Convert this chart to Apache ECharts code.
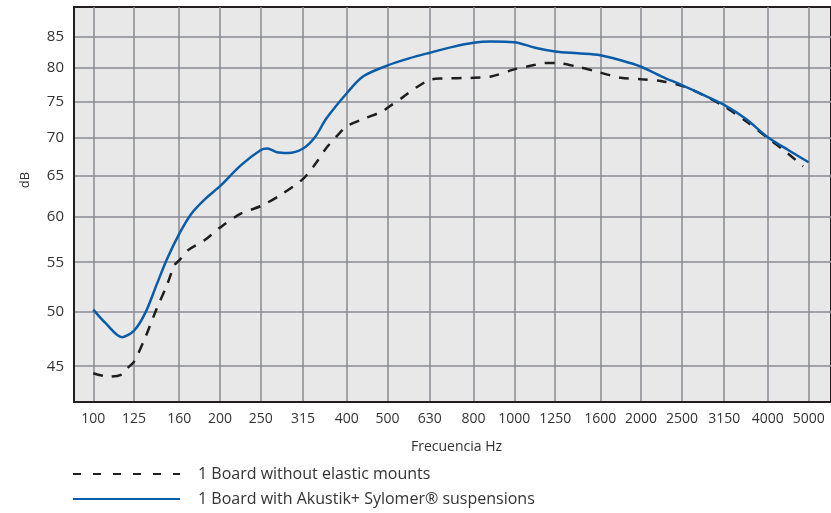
<!DOCTYPE html>
<html>
<head>
<meta charset="utf-8">
<script src="https://cdn.jsdelivr.net/npm/echarts@6/dist/echarts.min.js"></script>
<style>
html,body{margin:0;padding:0;background:#fff;}
#c{width:831px;height:513px;}
</style>
</head>
<body>
<div id="c"></div>
<script>
const freqTicks = [100,125,160,200,250,315,400,500,630,800,1000,1250,1600,2000,2500,3150,4000,5000];
const dbTicks = [45,50,55,60,65,70,75,80,85];

const nameWithout = '1 Board without elastic mounts';
const nameWith = '1 Board with Akustik+ Sylomer® suspensions';

const freqWith = [100,107,117,125,133,141.5,149.5,160,171,184,200,224,250,259,273,290,315,336,358,400,437,500,562,630,710,800,880,1000,1120,1250,1414,1600,1790,2000,2240,2500,2800,3150,3550,4000,4470,5000];
const dbWith   = [50.2,48.9,47.6,48.2,49.9,52.7,55.3,58.1,60.4,62.1,63.7,66.3,68.3,68.5,68.0,67.9,68.5,70.0,72.6,76.2,78.7,80.4,81.5,82.4,83.3,84.0,84.2,84.1,83.2,82.6,82.3,82.0,81.2,80.2,78.7,77.4,76.0,74.5,72.5,70.0,68.3,66.7];

const freqWithout = [100,109,117,121,125,133,141.5,149.5,156,160,168,184,200,224,250,278,315,340,358,385,400,437,487,500,543,583,630,670,800,880,1000,1120,1180,1250,1414,1600,1790,2000,2240,2500,2800,3150,3550,4000,4470,4850];
const dbWithout   = [44.4,44.1,44.3,44.9,45.4,47.6,50.3,52.6,54.7,55.2,56.3,57.4,58.8,60.4,61.3,62.6,64.6,66.8,68.6,70.6,71.5,72.5,73.6,74.1,75.6,77.0,78.2,78.4,78.5,78.7,79.8,80.5,80.8,80.8,80.2,79.3,78.5,78.3,78.0,77.3,76.0,74.3,72.2,69.9,67.8,66.2];

const pairs = (xs, ys) => xs.map((x, i) => [x, ys[i]]);
const FONT = 'Open Sans';

const chart = echarts.init(document.getElementById('c'), null, {renderer: 'canvas'});
chart.setOption({
  animation: false,
  backgroundColor: '#ffffff',
  grid: {
    left: 74, top: 7, right: -8, bottom: 111,
    show: true, backgroundColor: '#e8e8e8',
    borderColor: '#231f20', borderWidth: 2,
    containLabel: false
  },
  legend: {
    orient: 'vertical',
    left: 72, top: 466, padding: 0,
    itemWidth: 107, itemHeight: 14, itemGap: 9,
    itemStyle: {opacity: 0},
    textStyle: {fontFamily: FONT, fontSize: 16, color: '#333', padding: [0,0,0,13], lineHeight: 14},
    data: [
      {name: nameWithout, lineStyle: {type: [8, 12]}},
      {name: nameWith}
    ]
  },
  graphic: [{
    type: 'text', x: 25, y: 180, rotation: Math.PI / 2,
    style: {text: 'dB', fontFamily: FONT, fontSize: 13, fill: '#333', align: 'center', verticalAlign: 'middle'}
  }],
  xAxis: {
    type: 'log', logBase: 10, min: 90, max: 5650,
    name: 'Frecuencia Hz', nameLocation: 'middle', nameGap: 38,
    nameTextStyle: {fontFamily: FONT, fontSize: 14, color: '#333', padding: [0,0,0,8]},
    axisLine: {show: true, onZero: false, lineStyle: {color: '#231f20', width: 2}},
    axisTick: {show: false, customValues: freqTicks},
    axisLabel: {customValues: freqTicks, formatter: v => String(Math.round(v)), fontFamily: FONT, fontSize: 14, color: '#333', margin: 10},
    splitLine: {show: true, lineStyle: {color: '#8a8a93', width: 1.5}},
    minorTick: {show: false}, minorSplitLine: {show: false}
  },
  yAxis: {
    type: 'log', logBase: 10, min: 42, max: 90,
    axisLine: {show: true, onZero: false, lineStyle: {color: '#231f20', width: 2}},
    axisTick: {show: false, customValues: dbTicks},
    axisLabel: {customValues: dbTicks, formatter: v => String(Math.round(v)), fontFamily: FONT, fontSize: 15, color: '#333', margin: 10},
    splitLine: {show: true, lineStyle: {color: '#8a8a93', width: 1.5}},
    minorTick: {show: false}, minorSplitLine: {show: false}
  },
  series: [
    {
      name: nameWithout, type: 'line', smooth: 0.3, symbol: 'none',
      data: pairs(freqWithout, dbWithout),
      lineStyle: {color: '#1e1e1e', width: 2.5, type: [10, 9]},
      itemStyle: {color: '#1e1e1e'}, z: 3
    },
    {
      name: nameWith, type: 'line', smooth: 0.3, symbol: 'none',
      data: pairs(freqWith, dbWith),
      lineStyle: {color: '#0a5ca9', width: 2.5},
      itemStyle: {color: '#0a5ca9'}, z: 4
    }
  ]
});
</script>
</body>
</html>
